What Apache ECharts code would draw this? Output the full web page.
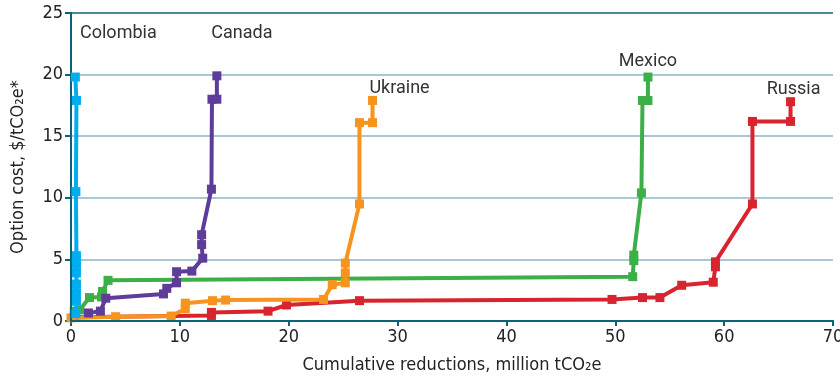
<!DOCTYPE html>
<html>
<head>
<meta charset="utf-8">
<title>Option cost curves</title>
<script src="https://cdn.jsdelivr.net/npm/echarts@6/dist/echarts.min.js"></script>
<style>
  html, body { margin: 0; padding: 0; background: #fff; }
  #chart { width: 840px; height: 377px; }
</style>
</head>
<body>
<div id="chart"></div>
<script>
// Cumulative reductions (million tCO2e) and option cost ($/tCO2e) per country
const colombiaX = [0.45, 0.5, 0.5, 0.5, 0.5, 0.5, 0.5, 0.45, 0.5, 0.4];
const colombiaY = [0.6, 1.6, 2.3, 3.0, 3.9, 4.6, 5.3, 10.5, 17.9, 19.8];

const canadaX = [1.6, 2.7, 3.2, 8.5, 8.8, 9.7, 9.7, 11.1, 12.1, 12.0, 12.0, 12.9, 12.95, 13.4, 13.4];
const canadaY = [0.65, 0.8, 1.85, 2.2, 2.65, 3.1, 4.0, 4.05, 5.1, 6.2, 7.0, 10.7, 18.0, 18.0, 19.9];

const ukraineX = [0.0, 4.1, 9.2, 10.5, 10.5, 13.0, 14.2, 23.2, 24.0, 25.2, 25.2, 25.2, 26.5, 26.5, 27.7, 27.7];
const ukraineY = [0.25, 0.35, 0.4, 1.0, 1.45, 1.65, 1.7, 1.75, 2.95, 3.1, 3.9, 4.7, 9.5, 16.1, 16.1, 17.9];

const mexicoX = [0.3, 0.8, 1.7, 2.8, 2.9, 3.4, 51.6, 51.7, 51.7, 52.4, 52.5, 53.0, 53.0];
const mexicoY = [0.8, 0.9, 1.9, 1.95, 2.4, 3.3, 3.6, 4.9, 5.35, 10.4, 17.9, 17.9, 19.8];

const russiaX = [0.3, 12.9, 12.9, 18.1, 19.8, 26.5, 49.7, 52.5, 54.1, 56.1, 59.0, 59.2, 59.2, 62.6, 62.6, 66.1, 66.1];
const russiaY = [0.3, 0.45, 0.7, 0.8, 1.3, 1.65, 1.75, 1.9, 1.9, 2.9, 3.15, 4.4, 4.8, 9.5, 16.2, 16.2, 17.8];

const xTicks = [0, 10, 20, 30, 40, 50, 60, 70];
const yTicks = [0, 5, 10, 15, 20, 25];

const AXIS = '#0b6377';
const GRID = '#8db6c6';
const TEXT = '#222';
const NARROW = "'Liberation Sans Narrow', 'DejaVu Sans Condensed', 'Roboto', sans-serif";

function pairs(xs, ys) { return xs.map((x, i) => [x, ys[i]]); }

// Attach the country name to the last point of its curve
function withEndLabel(xs, ys, name, offset) {
  const d = pairs(xs, ys);
  const last = d.length - 1;
  d[last] = {
    value: d[last],
    label: {
      show: true, position: 'top', formatter: name, offset: offset,
      color: '#333', fontSize: 18, fontFamily: 'Roboto, sans-serif'
    }
  };
  return d;
}

function curve(name, color, data, z) {
  return {
    name, type: 'line', data, z,
    symbol: 'rect', symbolSize: 9, showSymbol: true,
    lineStyle: { color, width: 4 },
    itemStyle: { color },
    emphasis: { disabled: true },
    animation: false
  };
}

const chart = echarts.init(document.getElementById('chart'), null, { renderer: 'canvas' });
chart.setOption({
  animation: false,
  grid: { left: 71, right: 7, top: 13, bottom: 56, containLabel: false, outerBoundsMode: 'none' },
  xAxis: [{
    type: 'value', min: 0, max: 70, interval: 10,
    name: 'Cumulative reductions, million tCO\u2082e',
    nameLocation: 'middle', nameGap: 35,
    nameTextStyle: { color: TEXT, fontSize: 18, fontFamily: NARROW },
    axisLine: { show: true, onZero: false, lineStyle: { color: AXIS, width: 2 } },
    axisTick: { show: true, length: 5, lineStyle: { color: AXIS, width: 2 } },
    axisLabel: { color: TEXT, fontSize: 18, fontFamily: NARROW, margin: 7,
      formatter: v => xTicks.includes(v) ? String(v) : '' },
    splitLine: { show: false }
  }, {
    type: 'value', position: 'top', min: 0, max: 70, z: 5,
    axisLine: { show: true, lineStyle: { color: AXIS, width: 2 } },
    axisTick: { show: false }, axisLabel: { show: false }, splitLine: { show: false }
  }],
  yAxis: [{
    type: 'value', min: 0, max: 25, interval: 5,
    name: 'Option cost, $/tCO\u2082e*',
    nameLocation: 'middle', nameGap: 44, nameRotate: 90,
    nameTextStyle: { color: TEXT, fontSize: 18, fontFamily: NARROW },
    axisLine: { show: true, onZero: false, lineStyle: { color: AXIS, width: 2 } },
    axisTick: { show: true, length: 6, lineStyle: { color: AXIS, width: 2 } },
    axisLabel: { color: TEXT, fontSize: 18, fontFamily: NARROW, margin: 8,
      formatter: v => yTicks.includes(v) ? String(v) : '' },
    splitLine: { show: true, lineStyle: { color: [AXIS, GRID, GRID, GRID, GRID, AXIS], width: 1.5 } }
  }, {
    type: 'value', position: 'right', min: 0, max: 25, z: 5,
    axisLine: { show: true, lineStyle: { color: AXIS, width: 2 } },
    axisTick: { show: false }, axisLabel: { show: false }, splitLine: { show: false }
  }],
  series: [
    curve('Mexico', '#3daf48', withEndLabel(mexicoX, mexicoY, 'Mexico', [0, 3]), 2),
    curve('Russia', '#d7242f', withEndLabel(russiaX, russiaY, 'Russia', [3, 6]), 3),
    curve('Ukraine', '#f7941e', withEndLabel(ukraineX, ukraineY, 'Ukraine', [27, 7]), 4),
    curve('Canada', '#5e3c99', withEndLabel(canadaX, canadaY, 'Canada', [25, -24]), 5),
    curve('Colombia', '#00aeef', withEndLabel(colombiaX, colombiaY, 'Colombia', [43, -25]), 6)
  ]
});
</script>
</body>
</html>
